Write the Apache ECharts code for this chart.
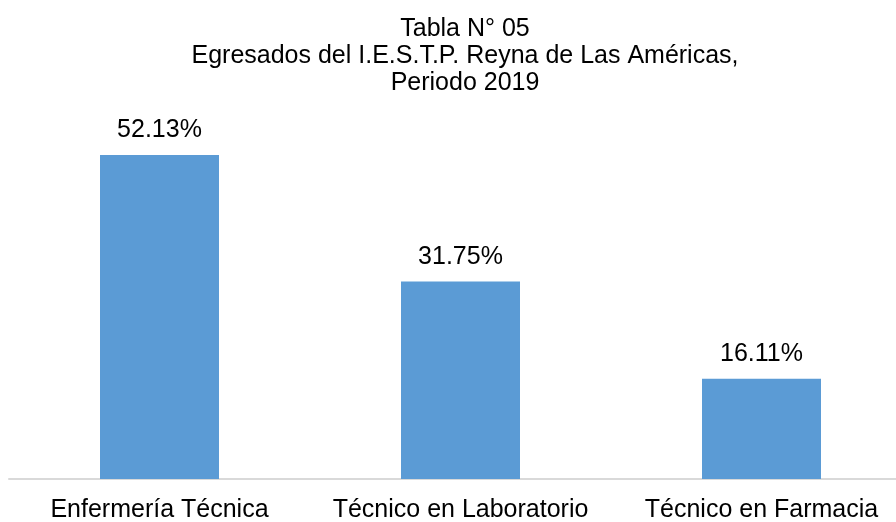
<!DOCTYPE html>
<html>
<head>
<meta charset="utf-8">
<script src="https://cdn.jsdelivr.net/npm/echarts@6/dist/echarts.min.js"></script>
<style>
  html, body { margin: 0; padding: 0; background: #fff; }
  #chart { width: 896px; height: 522px; }
</style>
</head>
<body>
<div id="chart"></div>
<script>
// datos
var categorias = ["Enfermería Técnica", "Técnico en Laboratorio", "Técnico en Farmacia"];
var porcentajes = [52.13, 31.75, 16.11];
var titulo = "Tabla N° 05\nEgresados del I.E.S.T.P. Reyna de Las Américas,\nPeriodo 2019";

var chart = echarts.init(document.getElementById("chart"));
chart.setOption({
  animation: false,
  title: {
    text: titulo,
    left: 460,
    textAlign: "center",
    top: 11,
    textStyle: {
      fontFamily: "Liberation Sans",
      fontSize: 25,
      fontWeight: "normal",
      color: "#000",
      lineHeight: 27
    }
  },
  // la imagen original está recortada a la derecha
  grid: { left: 9, width: 903, top: 106, bottom: 43, outerBoundsMode: "none", containLabel: false },
  xAxis: {
    type: "category",
    data: categorias,
    axisTick: { show: false },
    axisLine: { lineStyle: { color: "#d9d9d9", width: 2 } },
    axisLabel: {
      interval: 0,
      hideOverlap: false,
      margin: 19,
      fontFamily: "Liberation Sans",
      fontSize: 25,
      color: "#000"
    }
  },
  yAxis: {
    type: "value",
    min: 0,
    max: 60,
    show: false,
    splitLine: { show: false }
  },
  series: [{
    type: "bar",
    data: porcentajes,
    barWidth: 119,
    itemStyle: { color: "#5b9bd5" },
    label: {
      show: true,
      position: "top",
      distance: 12,
      fontFamily: "Liberation Sans",
      fontSize: 25,
      color: "#000",
      formatter: function (p) { return p.value.toFixed(2) + "%"; }
    }
  }]
});
</script>
</body>
</html>
